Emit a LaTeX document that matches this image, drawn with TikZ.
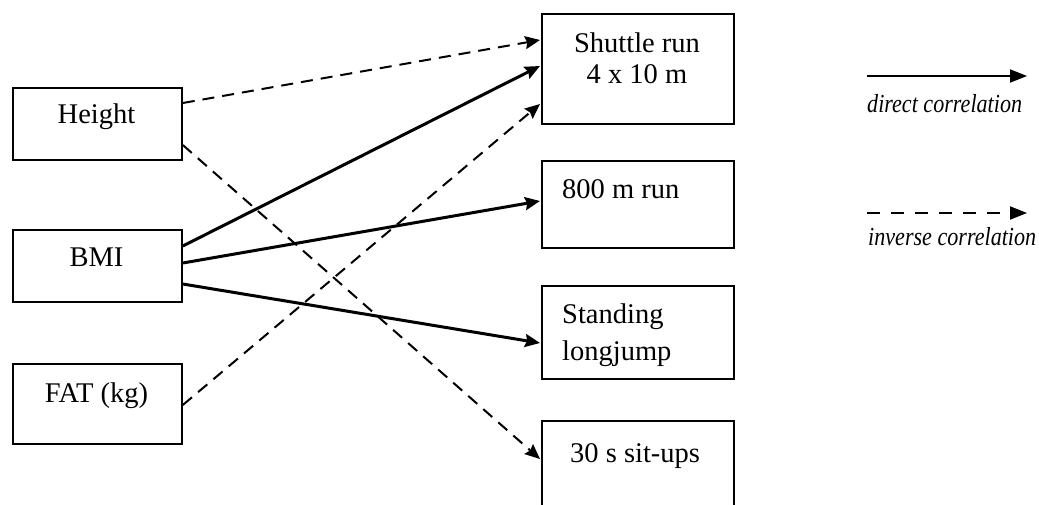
\documentclass[tikz,border=0pt]{standalone}
\usepackage{fontspec}
\setmainfont{Liberation Serif}
\usetikzlibrary{arrows.meta}
\tikzset{
  box/.style={draw, line width=1.8pt, anchor=north west, inner sep=0pt},
  lbl/.style={inner sep=0pt, anchor=base, font=\fontsize{28.5}{32}\selectfont},
  lbll/.style={lbl, anchor=base west},
  leg/.style={inner sep=0pt, anchor=base west, font=\fontsize{26}{30}\selectfont\itshape},
  tip/.style={-{Stealth[length=15pt,width=13pt,inset=2pt]}},
  legtip/.style={-{Triangle[length=17pt,width=13pt]}, line width=2pt},
  direct/.style={tip, line width=3pt},
  inverse/.style={tip, line width=2pt, dash pattern=on 12pt off 8pt},
}
\begin{document}
\begin{tikzpicture}[x=1pt,y=-1pt]
\useasboundingbox (0,0) rectangle (1039,504);
\begin{scope}
\clip (0,0) rectangle (1039,504);
% left boxes
\node[box, minimum width=169pt, minimum height=72pt] (h) at (12,87) {};
\node[box, minimum width=169pt, minimum height=72pt] (b) at (12,229) {};
\node[box, minimum width=169pt, minimum height=80pt] (f) at (12,363) {};
% right boxes
\node[box, minimum width=192pt, minimum height=110pt] (s) at (541,13) {};
\node[box, minimum width=192pt, minimum height=87pt] (r) at (541,160) {};
\node[box, minimum width=192pt, minimum height=93pt] (j) at (541,285) {};
\node[box, minimum width=192pt, minimum height=110pt] (u) at (541,420) {};
\end{scope}
% texts
\node[lbl] (ht) at (96.5,123) {Height};
\node[lbl] (bt) at (96.5,266) {BMI};
\node[lbl] (ft) at (96.5,402) {FAT (kg)};
\node[lbl] (st1) at (637,52) {Shuttle run};
\node[lbl] (st2) at (637,83) {4 x 10 m};
\node[lbll] (rt) at (562,198) {800 m run};
\node[lbll] (jt1) at (562,323) {Standing};
\node[lbll] (jt2) at (562,360) {longjump};
\node[lbll] (ut) at (570,462) {30 s sit-ups};
% connectors
\draw[inverse] ([yshift=-16pt]h.north east) -- ([xshift=-1pt,yshift=-27pt]s.north west);
\draw[inverse] ([yshift=-58pt]h.north east) -- ([xshift=-1pt,yshift=-39pt]u.north west);
\draw[direct] ([yshift=-17pt]b.north east) -- ([xshift=-1pt,yshift=-53pt]s.north west);
\draw[direct] ([yshift=-34pt]b.north east) -- ([xshift=-1pt,yshift=-41pt]r.north west);
\draw[direct] ([yshift=-55pt]b.north east) -- ([xshift=-1pt,yshift=-58pt]j.north west);
\draw[inverse] ([yshift=-42pt]f.north east) -- ([xshift=-1pt,yshift=-91pt]s.north west);
% legend
\coordinate (d1) at (867,76);
\coordinate (d2) at (1027,76);
\coordinate (i1) at (867,213);
\coordinate (i2) at (1027,213);
\draw[legtip] (d1) -- (d2);
\draw[legtip, dash pattern=on 13pt off 11pt] (i1) -- (i2);
\node[leg] (dl) at (867,112) {\scalebox{0.85}[1]{direct correlation}};
\node[leg] (il) at (868,245) {\scalebox{0.85}[1]{inverse correlation}};
\end{tikzpicture}
\end{document}
